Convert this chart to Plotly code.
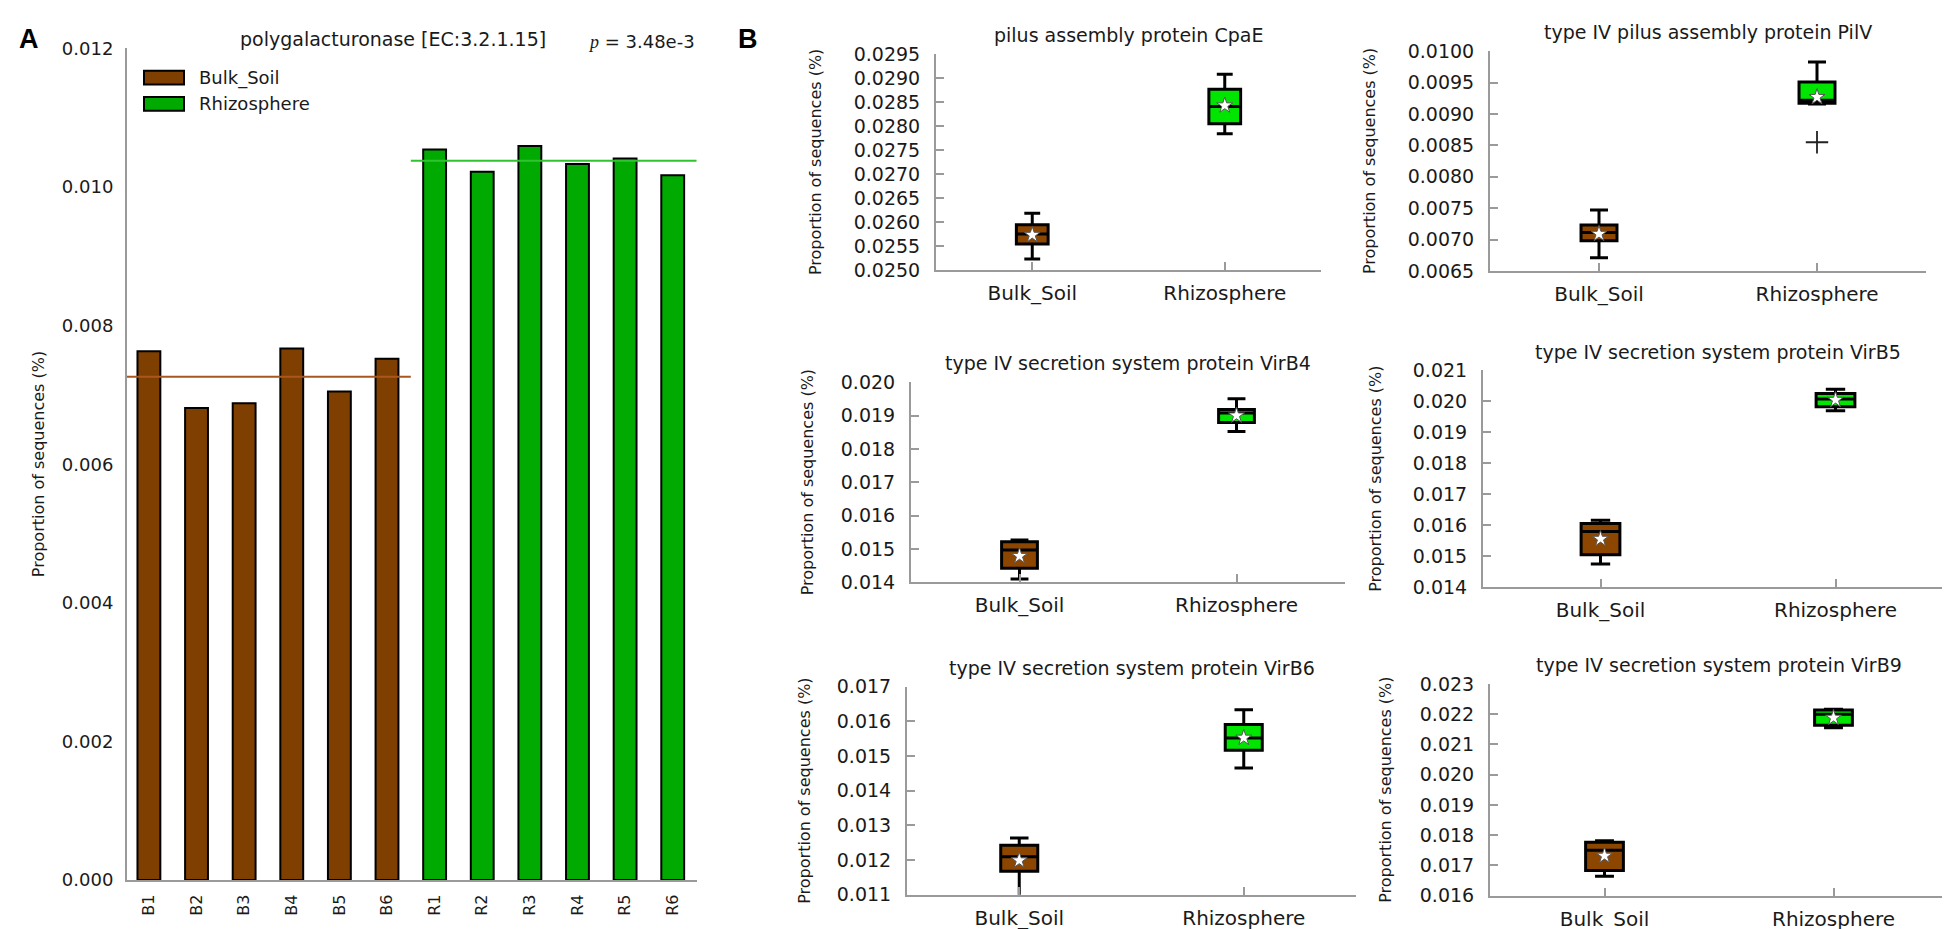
import plotly.graph_objects as go

W, H = 1950, 929

# ---------------- Panel A data ----------------
samples = ["B1", "B2", "B3", "B4", "B5", "B6", "R1", "R2", "R3", "R4", "R5", "R6"]
bulk_values = [0.00763, 0.00681, 0.00688, 0.00767, 0.00705, 0.00752]
rhizo_values = [0.01054, 0.01022, 0.01059, 0.01033, 0.01041, 0.01017]
group_names = ["Bulk_Soil", "Rhizosphere"]
a_title = "polygalacturonase [EC:3.2.1.15]"
a_p_value = "3.48e-3"
a_yticks = [0.000, 0.002, 0.004, 0.006, 0.008, 0.010, 0.012]

# ---------------- Panel B data ----------------
box_titles = [
    "pilus assembly protein CpaE",
    "type IV pilus assembly protein PilV",
    "type IV secretion system protein VirB4",
    "type IV secretion system protein VirB5",
    "type IV secretion system protein VirB6",
    "type IV secretion system protein VirB9",
]
bulk_low = [0.02523, 0.00671, 0.01410, 0.01475, 0.01090, 0.01664]
bulk_q1 = [0.02554, 0.00698, 0.01442, 0.01505, 0.01168, 0.01683]
bulk_med = [0.02575, 0.00711, 0.01497, 0.01580, 0.01210, 0.01750]
bulk_q3 = [0.02594, 0.00723, 0.01522, 0.01606, 0.01243, 0.01777]
bulk_high = [0.02618, 0.00747, 0.01527, 0.01616, 0.01264, 0.01782]
bulk_mean = [0.02573, 0.00709, 0.01479, 0.01556, 0.01199, 0.01732]

rhizo_low = [0.02784, 0.00916, 0.01852, 0.01970, 0.01466, 0.02155]
rhizo_q1 = [0.02805, 0.00917, 0.01879, 0.01983, 0.01517, 0.02163]
rhizo_med = [0.02841, 0.00922, 0.01908, 0.02008, 0.01552, 0.02200]
rhizo_q3 = [0.02877, 0.00951, 0.01918, 0.02026, 0.01591, 0.02214]
rhizo_high = [0.02908, 0.00983, 0.01950, 0.02039, 0.01634, 0.02216]
rhizo_mean = [0.02843, 0.00927, 0.01900, 0.02005, 0.01553, 0.02188]
rhizo_outliers = [[], [0.00855], [], [], [], []]

box_yranges = [[0.0250, 0.0295], [0.0065, 0.0100], [0.014, 0.020],
               [0.014, 0.021], [0.011, 0.017], [0.016, 0.023]]
box_dticks = [0.0005, 0.0005, 0.001, 0.001, 0.001, 0.001]
box_tickformats = [".4f", ".4f", ".3f", ".3f", ".3f", ".3f"]

# ---------------- styling ----------------
A_BROWN = "#7f3f00"
A_GREEN = "#00aa00"
B_BROWN = "#8c4600"
B_GREEN = "#00e600"
AXIS_GRAY = "#9a9a9a"
TXT = "#1a1a1a"
FONT = "DejaVu Sans"

# panel pixel boxes: (left, right, top, bottom)
a_box = (119, 689, 30, 882)
b_boxes = [
    (928, 1313, 36, 257),
    (1482, 1918, 33, 258),
    (903, 1337, 372, 577),
    (1475, 1945, 360, 582),
    (899, 1348, 684, 897),
    (1482, 1940, 681, 898),
]
b_ylabel_x = [807, 1361, 799, 1368, 797, 1378]


def xd(l, r):
    return [l / W, r / W]


def yd(t, b):
    return [1 - b / H, 1 - t / H]


def px(x):
    return x / W


def py(y):
    return 1 - y / H


fig = go.Figure()

# ---- Panel A ----
nb = len(bulk_values)
nr = len(rhizo_values)
mb = sum(bulk_values) / nb
mr = sum(rhizo_values) / nr
fig.add_trace(go.Scatter(x=[-0.5, nb - 0.5], y=[mb, mb], mode="lines",
                         line=dict(color="#a8581e", width=2), showlegend=False,
                         hoverinfo="skip", xaxis="x", yaxis="y"))
fig.add_trace(go.Scatter(x=[nb - 0.5, nb + nr - 0.5], y=[mr, mr], mode="lines",
                         line=dict(color="#2fc42f", width=2), showlegend=False,
                         hoverinfo="skip", xaxis="x", yaxis="y"))
fig.add_trace(go.Bar(x=list(range(nb)), y=bulk_values, width=0.48,
                     marker=dict(color=A_BROWN, line=dict(color="black", width=2)),
                     showlegend=False, xaxis="x", yaxis="y"))
fig.add_trace(go.Bar(x=list(range(nb, nb + nr)), y=rhizo_values, width=0.48,
                     marker=dict(color=A_GREEN, line=dict(color="black", width=2)),
                     showlegend=False, xaxis="x", yaxis="y"))

layout = dict(
    width=W, height=H, margin=dict(l=0, r=0, t=0, b=0),
    paper_bgcolor="white", plot_bgcolor="white",
    font=dict(family=FONT, color=TXT), showlegend=False, boxmode="overlay",
    xaxis=dict(domain=xd(a_box[0], a_box[1]), range=[-0.46, 11.51],
               tickvals=list(range(len(samples))), ticktext=samples, tickangle=-90,
               showline=True, linecolor=AXIS_GRAY, linewidth=2, ticks="",
               showgrid=False, zeroline=False, tickfont=dict(size=16),
               ticklabelstandoff=6, anchor="y", fixedrange=True),
    yaxis=dict(domain=yd(a_box[2], a_box[3]), range=[0, 0.012],
               tickvals=a_yticks, tickformat=".3f",
               showline=True, linecolor=AXIS_GRAY, linewidth=2, ticks="",
               showgrid=False, zeroline=False, tickfont=dict(size=18),
               ticklabelstandoff=8, anchor="x", fixedrange=True),
)

annotations = []
shapes = []


def note(text, x, y, size, xanchor="center", yanchor="middle", angle=0, family=None, color=None):
    f = dict(size=size)
    if family:
        f["family"] = family
    if color:
        f["color"] = color
    annotations.append(dict(text=text, x=px(x), y=py(y), xref="paper", yref="paper",
                            xanchor=xanchor, yanchor=yanchor, textangle=angle,
                            showarrow=False, font=f))


# Panel A texts
note("<b>A</b>", 21, 20, 27, family="Liberation Sans", color="black")
note(a_title, 385, 20, 19)
note('<span style="font-family:Liberation Serif"><i>p</i></span> = ' + a_p_value,
     a_box[1], 23, 18, xanchor="right")
note("Proportion of sequences (%)", 30, (a_box[2] + a_box[3]) / 2, 16, angle=-90)

# Legend (custom patches)
leg_colors = [A_BROWN, A_GREEN]
leg_y = [60, 87]
for name, col, yc in zip(group_names, leg_colors, leg_y):
    shapes.append(dict(type="rect", xref="paper", yref="paper",
                       x0=px(136), x1=px(176), y0=py(yc + 7), y1=py(yc - 7),
                       fillcolor=col, line=dict(color="black", width=2)))
    note(name, 189, yc, 18, xanchor="left")

# Panel B letter
note("<b>B</b>", 740, 20, 27, family="Liberation Sans", color="black")

# ---- Panel B boxes ----
for i in range(len(box_titles)):
    k = i + 2
    xa, ya = f"x{k}", f"y{k}"
    l, r, t, b = b_boxes[i]
    fig.add_trace(go.Box(x=[0], q1=[bulk_q1[i]], median=[bulk_med[i]], q3=[bulk_q3[i]],
                         lowerfence=[bulk_low[i]], upperfence=[bulk_high[i]],
                         width=0.165, whiskerwidth=0.5, fillcolor=B_BROWN,
                         line=dict(color="black", width=3), boxpoints=False,
                         hoverinfo="skip", xaxis=xa, yaxis=ya, showlegend=False))
    fig.add_trace(go.Box(x=[1], q1=[rhizo_q1[i]], median=[rhizo_med[i]], q3=[rhizo_q3[i]],
                         lowerfence=[rhizo_low[i]], upperfence=[rhizo_high[i]],
                         width=0.165, whiskerwidth=0.5, fillcolor=B_GREEN,
                         line=dict(color="black", width=3), boxpoints=False,
                         hoverinfo="skip", xaxis=xa, yaxis=ya, showlegend=False))
    if rhizo_outliers[i]:
        fig.add_trace(go.Scatter(x=[1] * len(rhizo_outliers[i]), y=rhizo_outliers[i], mode="markers",
                                 marker=dict(symbol="cross-thin", size=16,
                                             line=dict(color="#222", width=1.8)),
                                 hoverinfo="skip", xaxis=xa, yaxis=ya, showlegend=False))
    fig.add_trace(go.Scatter(x=[0, 1], y=[bulk_mean[i], rhizo_mean[i]], mode="markers",
                             marker=dict(symbol="star", size=12, color="white",
                                         line=dict(color="#555", width=1)),
                             hoverinfo="skip", xaxis=xa, yaxis=ya, showlegend=False))

    layout[f"xaxis{k}"] = dict(domain=xd(l, r), range=[-0.5, 1.5], tickvals=[0, 1],
                               ticktext=group_names, showline=True, linecolor=AXIS_GRAY,
                               linewidth=2, ticks="inside", ticklen=8, tickcolor=AXIS_GRAY,
                               tickwidth=1.5, showgrid=False, zeroline=False,
                               tickfont=dict(size=20), ticklabelstandoff=4,
                               anchor=ya, fixedrange=True)
    layout[f"yaxis{k}"] = dict(domain=yd(t, b), range=box_yranges[i], dtick=box_dticks[i],
                               tick0=box_yranges[i][0], tickformat=box_tickformats[i],
                               showline=True, linecolor=AXIS_GRAY, linewidth=2,
                               ticks="inside", ticklen=8, tickcolor=AXIS_GRAY, tickwidth=1.5,
                               showgrid=False, zeroline=False, tickfont=dict(size=19),
                               ticklabelstandoff=10, anchor=xa, fixedrange=True)
    note(box_titles[i], (l + r) / 2, t - 6, 19, yanchor="bottom")
    note("Proportion of sequences (%)", b_ylabel_x[i], (t + b) / 2, 16, angle=-90)

layout["annotations"] = annotations
layout["shapes"] = shapes
fig.update_layout(**layout)

fig.write_html("out.html")
